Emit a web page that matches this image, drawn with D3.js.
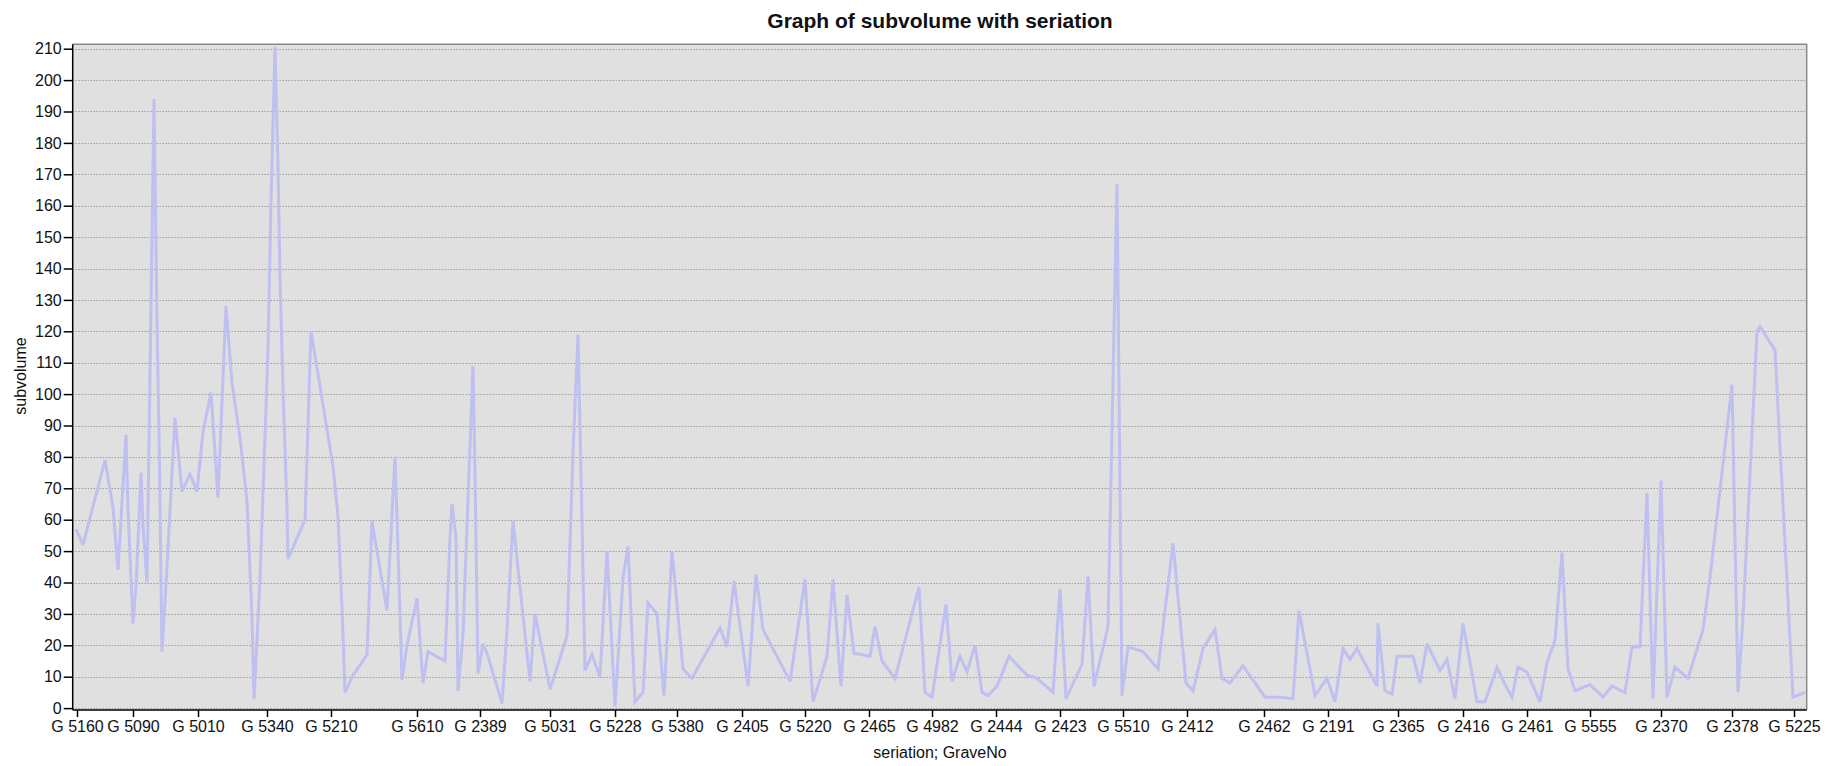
<!DOCTYPE html>
<html>
<head>
<meta charset="utf-8">
<script src="https://cdn.jsdelivr.net/npm/d3@7"></script>
<style>
  html, body { margin: 0; padding: 0; background: #ffffff; }
  svg { display: block; font-family: "Liberation Sans", Arial, sans-serif; }
</style>
</head>
<body>
<svg id="chart" width="1841" height="766"></svg>
<script>
// Seriation score of each grave (position along the seriation order)
const seriation = [
  0.0, 0.7, 2.9, 3.7, 4.2, 4.5, 5.0, 5.2, 5.7, 6.0, 6.5, 6.7, 7.1, 7.8, 8.1, 8.3, 8.6, 9.1, 9.9, 10.6,
  11.4, 12.1, 12.7, 13.5, 14.2, 15.0, 15.6, 16.4, 17.1, 17.6, 17.8, 18.4, 19.2, 19.5, 19.9, 20.2, 20.4, 20.7, 21.1, 21.2,
  22.9, 23.5, 25.7, 26.2, 26.6, 26.9, 27.7, 29.1, 29.6, 31.1, 31.9, 32.1, 32.6, 33.1, 34.1, 34.7, 35.2, 36.9, 37.4, 37.6,
  38.0, 38.2, 38.7, 39.3, 39.7, 39.9, 40.2, 40.7, 41.2, 42.6, 43.1, 43.7, 45.4, 45.9, 47.4, 49.1, 49.7, 50.2, 50.6, 50.9,
  51.6, 52.4, 53.1, 53.9, 54.7, 55.2, 55.9, 56.7, 57.2, 58.1, 58.8, 59.6, 60.7, 61.6, 64.4, 65.1, 65.8, 67.2, 68.0, 68.7,
  71.4, 72.9, 73.7, 75.1, 75.7, 76.5, 77.1, 77.8, 79.4, 79.9, 80.6, 81.9, 84.3, 84.9, 85.6, 87.0, 87.6, 88.4, 89.1, 89.9,
  90.6, 91.2, 92.1, 93.3, 95.1, 96.1, 97.7, 98.4, 99.0, 100.6, 101.2, 101.8, 103.2, 104.1, 104.6, 105.2, 106.7, 108.2, 109.7, 111.0,
  111.7, 112.7, 113.9, 114.6, 115.4, 116.7, 118.9, 120.4, 121.7, 122.3, 123.9, 125.1, 125.9, 126.7, 127.4, 128.1, 130.1, 130.2, 130.9, 131.6,
  132.1, 133.7, 134.4, 135.1, 136.4, 137.1, 137.9, 138.7, 140.1, 140.9, 142.1, 142.9, 143.6, 144.2, 145.1, 146.4, 147.1, 147.9, 148.6, 149.2,
  149.9, 151.4, 152.7, 153.6, 154.9, 155.6, 156.4, 157.1, 157.7, 158.5, 159.1, 159.9, 161.2, 162.7, 163.4, 165.6, 166.2, 166.7, 168.1, 168.4,
  169.9, 171.7, 172.9
];

// Subvolume of each grave, same order
const subvolume = [
  57, 52, 79, 64, 44, 60, 87, 63, 27, 39, 75, 58, 40, 194, 123, 88, 18, 45, 92.5, 69,
  74.5, 69, 88, 100.5, 67, 128, 103.5, 86, 66, 29, 3, 41, 114, 162, 210.5, 172.5, 137, 102, 63.5, 47.5,
  60, 120, 77, 61, 32, 5, 10.5, 17, 59.5, 31, 80, 61, 9, 20, 35, 8, 18, 15, 54, 65,
  54, 5.5, 23.5, 75, 109, 75, 11, 20.5, 16.5, 1.5, 25, 59.5, 8.5, 30, 6, 23, 81.5, 119, 59.5, 12,
  17, 10, 50, 0.5, 41.5, 51.5, 2, 5, 33.5, 30, 4, 50, 12.5, 9.5, 25.5, 19.5, 40.5, 7, 42.5, 25,
  8.5, 41, 2, 16.5, 41, 7, 36, 17.5, 16.5, 26, 15, 9.5, 38.5, 5, 3.5, 33, 8.5, 16.5, 11.5, 20,
  5, 4, 7, 16.5, 10.5, 9.5, 5, 38, 3, 14, 42, 7, 26, 167, 4, 19.5, 18, 12.5, 52.5, 8,
  5.5, 19, 25, 9.5, 8, 13.5, 3.5, 3.5, 3, 31, 4, 9.5, 2, 19, 15.5, 19, 7, 27, 5.5, 4.5,
  16.5, 16.5, 8, 20.5, 12, 15.5, 3, 27, 2, 2, 13, 7.5, 3.5, 13, 11.5, 2, 14.5, 21.5, 49.5, 12.5,
  5.5, 7.5, 3.5, 7, 5, 19.5, 19.5, 68.5, 3, 72.5, 3.5, 13, 9.5, 25, 41.5, 103, 5, 29, 120, 121.5,
  114, 3.5, 5
];

// Grave numbers labelled along the x axis and their seriation scores
const tickLabels = [
  "G 5160", "G 5090", "G 5010", "G 5340", "G 5210", "G 5610", "G 2389", "G 5031", "G 5228",
  "G 5380", "G 2405", "G 5220", "G 2465", "G 4982", "G 2444", "G 2423", "G 5510", "G 2412",
  "G 2462", "G 2191", "G 2365", "G 2416", "G 2461", "G 5555", "G 2370", "G 2378", "G 5225"
];
const tickSeriation = [
  0.1, 5.7, 12.2, 19.1, 25.5, 34.1, 40.4, 47.4, 53.9,
  60.1, 66.6, 72.9, 79.3, 85.6, 92.0, 98.4, 104.7, 111.1,
  118.8, 125.2, 132.2, 138.7, 145.1, 151.4, 158.5, 165.6, 171.8
];

const yTicks = d3.range(0, 211, 10);

const svg = d3.select("#chart");
const W = 1841, H = 766;
const plot = { left: 72.7, right: 1806.7, top: 44.3, bottom: 710 };

svg.append("rect").attr("width", W).attr("height", H).attr("fill", "#ffffff");

const x = d3.scaleLinear().domain([-0.33, 173.07]).range([plot.left, plot.right]);
const y = d3.scaleLinear().domain([-0.6, 211.4]).range([plot.bottom, plot.top]);

// plot background
svg.append("rect")
  .attr("x", plot.left).attr("y", plot.top)
  .attr("width", plot.right - plot.left).attr("height", plot.bottom - plot.top)
  .attr("fill", "#e0e0e0");

// dotted horizontal grid
svg.append("g")
  .selectAll("line")
  .data(yTicks)
  .join("line")
  .attr("x1", plot.left).attr("x2", plot.right)
  .attr("y1", d => Math.round(y(d)) + 0.5).attr("y2", d => Math.round(y(d)) + 0.5)
  .attr("stroke", "#7c7c7c")
  .attr("stroke-width", 1)
  .attr("stroke-dasharray", "1,2");

// frame: top and right edges
svg.append("path")
  .attr("d", `M${plot.left},${plot.top}H${plot.right}V${plot.bottom}`)
  .attr("fill", "none")
  .attr("stroke", "#8a8a8a")
  .attr("stroke-width", 1.5);

// series line
const pts = seriation.map((s, i) => [s, subvolume[i]]);
const line = d3.line().x(d => x(d[0])).y(d => y(d[1]));
svg.append("path")
  .datum(pts)
  .attr("d", line)
  .attr("fill", "none")
  .attr("stroke", "#bfbff0")
  .attr("stroke-width", 3)
  .attr("stroke-linejoin", "miter")
  .attr("stroke-miterlimit", 3);

// y axis
const yAxis = d3.axisLeft(y).tickValues(yTicks).tickSize(9).tickPadding(2);
const gy = svg.append("g")
  .attr("transform", `translate(${plot.left},0)`)
  .call(yAxis);
gy.select(".domain").attr("stroke", "#000").attr("stroke-width", 1.5)
  .attr("d", `M0,${plot.top}V${plot.bottom}`);
gy.selectAll(".tick line").attr("stroke", "#000").attr("stroke-width", 1.5);
gy.selectAll(".tick text").attr("font-size", 16).attr("fill", "#111")
  .attr("font-family", "'Liberation Sans', Arial, sans-serif");

// x axis
const xAxis = d3.axisBottom(x).tickValues(tickSeriation)
  .tickFormat((d, i) => tickLabels[i]).tickSize(7).tickPadding(4);
const gx = svg.append("g")
  .attr("transform", `translate(0,${plot.bottom})`)
  .call(xAxis);
gx.select(".domain").attr("stroke", "#000").attr("stroke-width", 1.5)
  .attr("d", `M${plot.left},0H${plot.right}`);
gx.selectAll(".tick line").attr("stroke", "#000").attr("stroke-width", 1.5);
gx.selectAll(".tick text").attr("font-size", 16).attr("fill", "#111")
  .attr("font-family", "'Liberation Sans', Arial, sans-serif");

// titles
svg.append("text")
  .attr("x", 940).attr("y", 28)
  .attr("text-anchor", "middle")
  .attr("font-size", 21).attr("font-weight", "bold").attr("fill", "#111")
  .text("Graph of subvolume with seriation");

svg.append("text")
  .attr("x", 940).attr("y", 758)
  .attr("text-anchor", "middle")
  .attr("font-size", 16).attr("fill", "#111")
  .text("seriation; GraveNo");

svg.append("text")
  .attr("transform", "translate(26,376) rotate(-90)")
  .attr("text-anchor", "middle")
  .attr("font-size", 16).attr("fill", "#111")
  .text("subvolume");
</script>
</body>
</html>
